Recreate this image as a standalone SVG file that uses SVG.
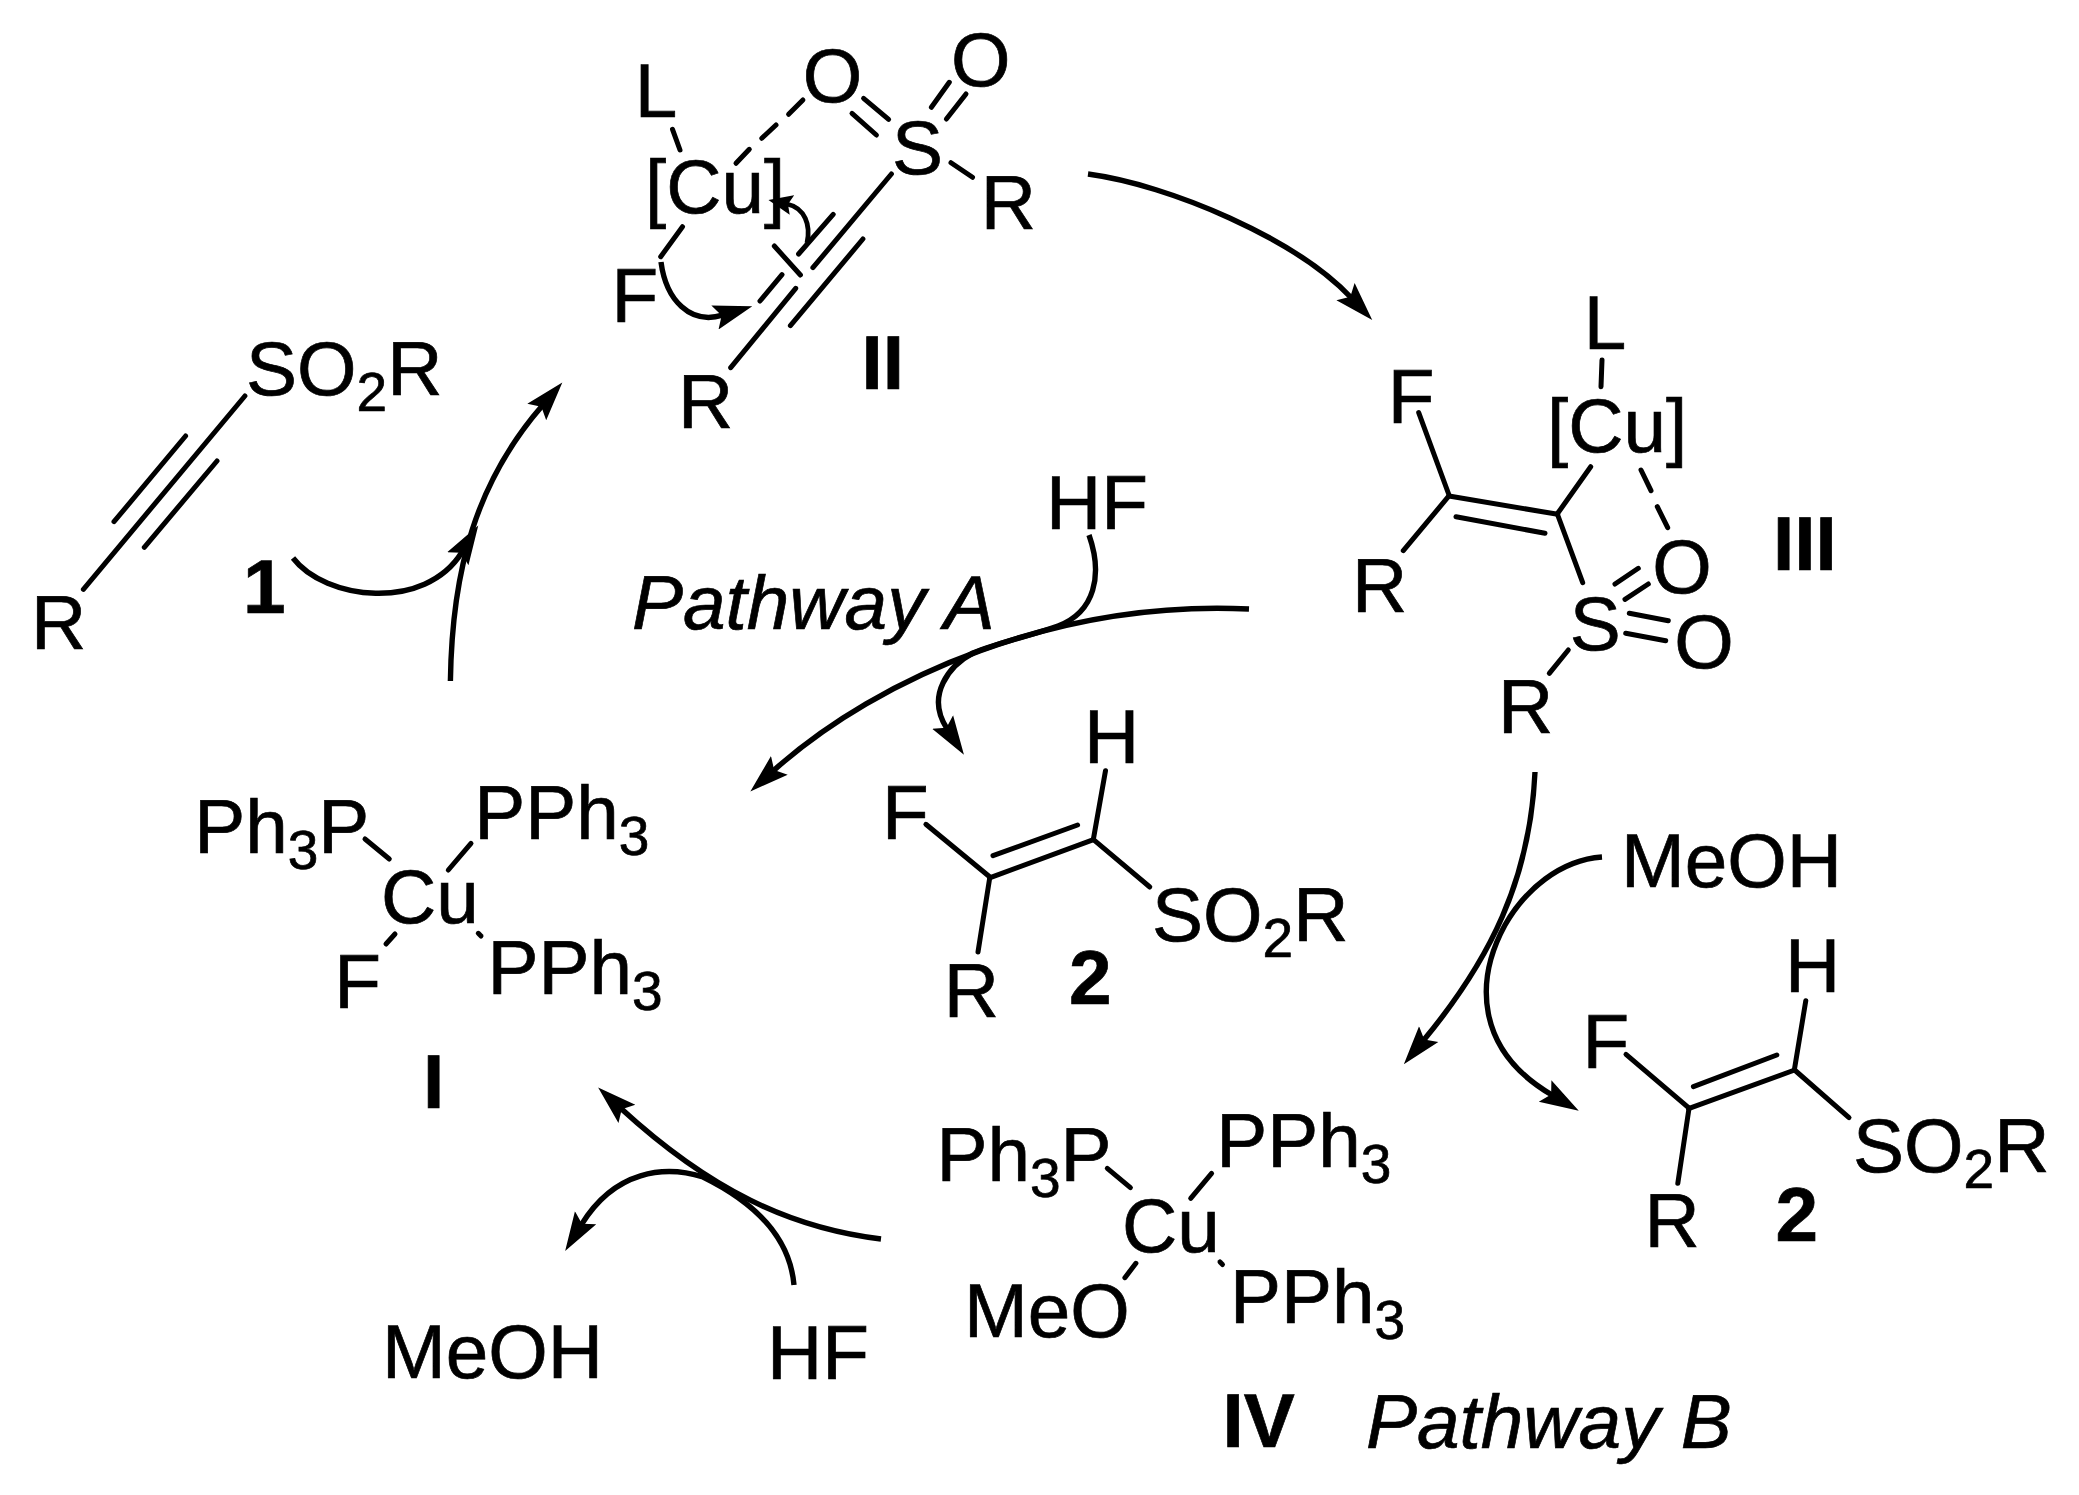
<svg xmlns="http://www.w3.org/2000/svg" width="2079" height="1495" viewBox="0 0 2079 1495">
<style>
text{font-family:"Liberation Sans",Arial,sans-serif;font-size:76.5px;fill:#000;stroke:#000;stroke-width:.7}
.b{font-weight:bold}
.i{font-style:italic}
.s{font-size:55px}
line,.bond{stroke:#000;stroke-width:5;stroke-linecap:round;fill:none}
.arrow{stroke:#000;stroke-width:5.4;fill:none;marker-end:url(#ah);stroke-linecap:butt}
.arrow.small{marker-end:url(#ahs);stroke-width:4.8}
</style>
<defs>
<marker id="ah" markerUnits="userSpaceOnUse" markerWidth="42" markerHeight="30" refX="8" refY="15" orient="auto"><path d="M0,2.5 L39,15 L0,27.5 L7,15 Z" fill="#000"/></marker>
<marker id="ahs" markerUnits="userSpaceOnUse" markerWidth="26" markerHeight="22" refX="5" refY="11" orient="auto"><path d="M0,1 L24,11 L0,21 L4,11 Z" fill="#000"/></marker>
</defs>
<rect width="2079" height="1495" fill="#fff"/>

<g id="connectors">
<path class="arrow" d="M1088,174 C1170,185 1296,239 1351,297.5"/>
<path class="arrow" d="M450.4,681 C452,570 476,482 542,406"/>
<path class="arrow" d="M293,558 C325,600 425,612 462,552"/>
<path class="arrow" d="M1249,609 C1060,600 880,675 773.4,770.7"/>
<path class="arrow" d="M1089,535 C1103,575 1095,612 1058,626 C1030,636 1000,642 973,653 C950,665 925,695 947,728.7"/>
<path class="arrow" d="M1535,772 C1530,880 1490,960 1423.6,1040.3"/>
<path class="arrow" d="M1602,857 C1560,860 1525,890 1505,925 C1475,980 1475,1050 1552,1095"/>
<path class="arrow" d="M881,1239 C790,1228 710,1190 621,1108.5"/>
<path class="arrow" d="M794,1285 C790,1240 760,1205 703,1177 C665,1165 615,1170 581.4,1224.6"/>
</g>

<g id="node-1">
<text x="31" y="649">R</text>
<text x="246" y="395">SO<tspan class="s" dy="16">2</tspan><tspan dy="-16">R</tspan></text>
<line x1="244.9" y1="396" x2="83.4" y2="589.3"/>
<line x1="185.6" y1="436" x2="114" y2="521.7"/>
<line x1="217" y1="461" x2="144.3" y2="547.3"/>
<text class="b" x="243" y="613">1</text>
</g>

<g id="node-II">
<text x="634.8" y="117.3">L</text>
<text x="645" y="213">[Cu]</text>
<text x="802.7" y="102.3">O</text>
<text x="951" y="85.7">O</text>
<text x="892" y="173.7">S</text>
<text x="980.8" y="229.3">R</text>
<text x="611.5" y="321.7">F</text>
<text x="678" y="427.7">R</text>
<text class="b" x="861.5" y="389">II</text>
<line x1="672.5" y1="129.3" x2="680" y2="150"/>
<line x1="682.5" y1="226.7" x2="660.7" y2="256.7"/>
<line x1="736" y1="163.3" x2="749.3" y2="149.3"/>
<line x1="761.8" y1="138.3" x2="776" y2="125"/>
<line x1="788.6" y1="114.3" x2="802.9" y2="100"/>
<line x1="863.6" y1="98.3" x2="888.6" y2="119.3"/>
<line x1="852" y1="113.3" x2="876.4" y2="135"/>
<line x1="931.4" y1="107.3" x2="949.3" y2="82.3"/>
<line x1="946.4" y1="119" x2="966" y2="94"/>
<line x1="951" y1="162.7" x2="972.5" y2="177.3"/>
<line x1="891.4" y1="174" x2="812.9" y2="267.7"/>
<line x1="795.7" y1="288.3" x2="730.7" y2="367.7"/>
<line x1="833.2" y1="214.3" x2="798.6" y2="254"/>
<line x1="782" y1="274.7" x2="760" y2="301"/>
<line x1="862.9" y1="239" x2="790.4" y2="325.7"/>
<line x1="774.3" y1="246" x2="800.4" y2="275"/>
<path class="arrow" d="M661,262 C666,300 690,325 722.6,315.2"/>
<path class="arrow small" d="M807,243 C811,225 805,208 787,204"/>
</g>

<g id="node-III">
<text x="1583.7" y="349.3">L</text>
<text x="1547" y="452">[Cu]</text>
<text x="1387.8" y="422.7">F</text>
<text x="1352" y="611.7">R</text>
<text x="1652.3" y="593.3">O</text>
<text x="1674.3" y="668">O</text>
<text x="1569.8" y="649.7">S</text>
<text x="1498" y="733.3">R</text>
<text class="b" x="1773" y="570">III</text>
<line x1="1602" y1="360" x2="1601" y2="386.7"/>
<line x1="1418.7" y1="412.7" x2="1449" y2="495"/>
<line x1="1449" y1="496" x2="1557.7" y2="514.3"/>
<line x1="1456" y1="516.7" x2="1545" y2="533.3"/>
<line x1="1448.3" y1="496.7" x2="1403.3" y2="550.7"/>
<line x1="1557.7" y1="513.3" x2="1590.7" y2="466.7"/>
<line x1="1557.7" y1="515" x2="1582.7" y2="582.7"/>
<line x1="1641" y1="470" x2="1651" y2="490.7"/>
<line x1="1657.3" y1="506.7" x2="1667.7" y2="527.7"/>
<line x1="1615" y1="584" x2="1638.3" y2="568.3"/>
<line x1="1625" y1="599.3" x2="1648.3" y2="584"/>
<line x1="1629.3" y1="613.3" x2="1668.3" y2="620.7"/>
<line x1="1625.7" y1="633.3" x2="1665.7" y2="640.7"/>
<line x1="1568.3" y1="650" x2="1549.3" y2="673.3"/>
</g>

<g id="node-I">
<text x="194.2" y="852.7">Ph<tspan class="s" dy="16">3</tspan><tspan dy="-16">P</tspan></text>
<text x="474.2" y="839">PPh<tspan class="s" dy="16">3</tspan></text>
<text x="381" y="923.3">Cu</text>
<text x="334.3" y="1008.3">F</text>
<text x="487.5" y="994.3">PPh<tspan class="s" dy="16">3</tspan></text>
<text class="b" x="423" y="1108.3">I</text>
<line x1="365" y1="839" x2="389.3" y2="859"/>
<line x1="471" y1="843.3" x2="448.3" y2="870"/>
<line x1="395" y1="934" x2="386" y2="944"/>
<line x1="478.3" y1="933.3" x2="481" y2="936"/>
</g>

<g id="node-IV">
<text x="936.4" y="1181">Ph<tspan class="s" dy="16">3</tspan><tspan dy="-16">P</tspan></text>
<text x="1216.2" y="1167.3">PPh<tspan class="s" dy="16">3</tspan></text>
<text x="1122" y="1252">Cu</text>
<text x="964" y="1337.3">MeO</text>
<text x="1229.9" y="1323.3">PPh<tspan class="s" dy="16">3</tspan></text>
<text class="b" x="1222.5" y="1447.3">IV</text>
<line x1="1107.3" y1="1168.3" x2="1130.4" y2="1187.7"/>
<line x1="1211.6" y1="1173.3" x2="1190.7" y2="1198.3"/>
<line x1="1135.9" y1="1263.3" x2="1124.9" y2="1277.7"/>
<line x1="1220" y1="1262" x2="1222.5" y2="1264.5"/>
</g>

<g id="node-2a">
<text x="882" y="839.2">F</text>
<text x="1084" y="762.7">H</text>
<text x="1152" y="941">SO<tspan class="s" dy="16">2</tspan><tspan dy="-16">R</tspan></text>
<text x="943.8" y="1017">R</text>
<text class="b" x="1069" y="1004.2">2</text>
<line x1="925.9" y1="824.3" x2="989.6" y2="876.7"/>
<line x1="989.6" y1="877.9" x2="1093.5" y2="839.6"/>
<line x1="993" y1="855.7" x2="1077.6" y2="825"/>
<line x1="1093.5" y1="838.5" x2="1105.5" y2="770.7"/>
<line x1="1093.5" y1="839.6" x2="1149.8" y2="887"/>
<line x1="989.6" y1="878.6" x2="978" y2="952"/>
</g>

<g id="node-2b">
<text x="1582.6" y="1068.3">F</text>
<text x="1785" y="992.3">H</text>
<text x="1853" y="1171.7">SO<tspan class="s" dy="16">2</tspan><tspan dy="-16">R</tspan></text>
<text x="1644.5" y="1247.3">R</text>
<text class="b" x="1775.6" y="1240.7">2</text>
<line x1="1626" y1="1054.3" x2="1688.5" y2="1107.7"/>
<line x1="1688.5" y1="1108.7" x2="1794.6" y2="1070"/>
<line x1="1693.4" y1="1086.7" x2="1776.8" y2="1055"/>
<line x1="1794.6" y1="1068.3" x2="1805.8" y2="1000.7"/>
<line x1="1794.6" y1="1070" x2="1849" y2="1117.7"/>
<line x1="1689" y1="1108.3" x2="1677.8" y2="1183.3"/>
</g>

<g id="labels">
<text x="1046" y="528.5">HF</text>
<text class="i" x="632" y="629">Pathway A</text>
<text x="1621" y="887.3">MeOH</text>
<text x="382" y="1378.3">MeOH</text>
<text x="767" y="1379.3">HF</text>
<text class="i" x="1366" y="1448">Pathway B</text>
</g>
</svg>
